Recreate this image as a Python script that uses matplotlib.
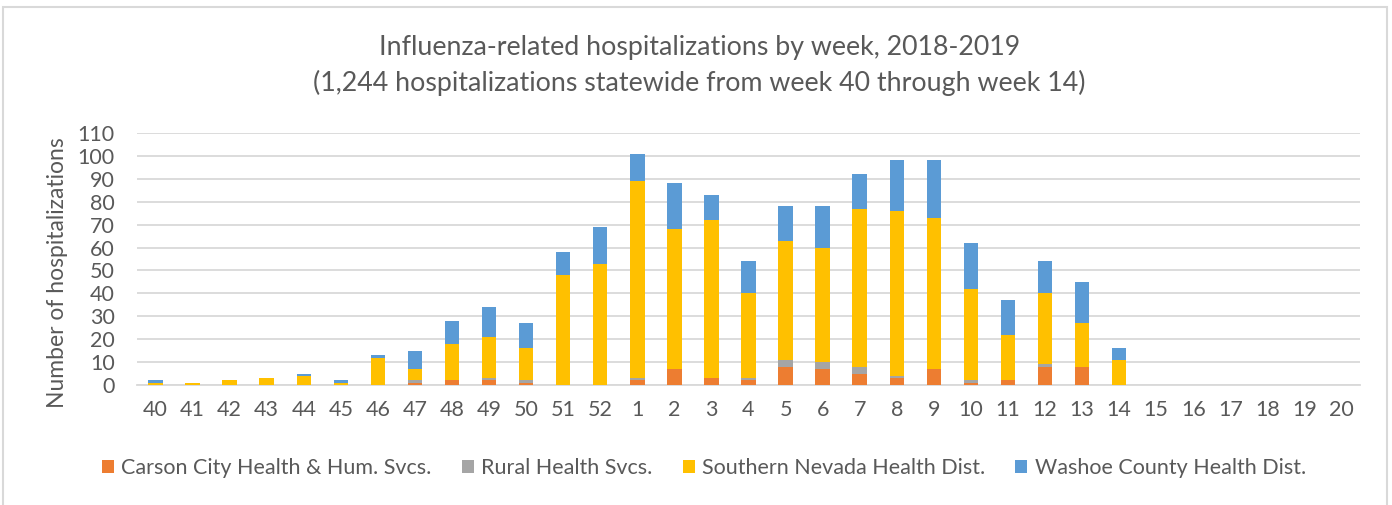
import matplotlib
matplotlib.use("Agg")
import matplotlib.pyplot as plt
from matplotlib.patches import Rectangle
import numpy as np

weeks = ['40', '41', '42', '43', '44', '45', '46', '47', '48', '49', '50', '51', '52',
         '1', '2', '3', '4', '5', '6', '7', '8', '9', '10', '11', '12', '13', '14',
         '15', '16', '17', '18', '19', '20']
carson = [0, 0, 0, 0, 0, 0, 0, 1, 2, 2, 1, 0, 0, 2, 7, 3, 2, 8, 7, 5, 3, 7, 1, 2, 8, 8, 0,
          0, 0, 0, 0, 0, 0]
rural = [0, 0, 0, 0, 0, 0, 0, 1, 0, 1, 1, 0, 0, 1, 0, 0, 1, 3, 3, 3, 1, 0, 1, 0, 1, 0, 0,
         0, 0, 0, 0, 0, 0]
southern = [1, 1, 2, 3, 4, 1, 12, 5, 16, 18, 14, 48, 53, 86, 61, 69, 37, 52, 50, 69, 72, 66,
            40, 20, 31, 19, 11, 0, 0, 0, 0, 0, 0]
washoe = [1, 0, 0, 0, 1, 1, 1, 8, 10, 13, 11, 10, 16, 12, 20, 11, 14, 15, 18, 15, 22, 25,
          20, 15, 14, 18, 5, 0, 0, 0, 0, 0, 0]

series = [
    ("Carson City Health & Hum. Svcs.", carson, "#ED7D31"),
    ("Rural Health Svcs.", rural, "#A5A5A5"),
    ("Southern Nevada Health Dist.", southern, "#FFC000"),
    ("Washoe County Health Dist.", washoe, "#5B9BD5"),
]

plt.rcParams['font.family'] = ['Lato', 'DejaVu Sans']
txt = "#595959"

W, H = 1392, 505
fig = plt.figure(figsize=(W / 100, H / 100), dpi=100)
fig.patch.set_facecolor("white")

# outer chart border
fig.patches.append(Rectangle((3 / W, -0.01), (1387 - 3) / W, (H - 7) / H + 0.01,
                             transform=fig.transFigure, fill=False,
                             edgecolor="#D9D9D9", linewidth=1.5))

left, right = 137 / W, 1360 / W
bottom, top = (H - 385) / H, (H - 133) / H
ax = fig.add_axes([left, bottom, right - left, top - bottom])

x = np.arange(len(weeks))
base = np.zeros(len(weeks))
handles = []
for name, vals, col in series:
    v = np.array(vals, dtype=float)
    b = ax.bar(x, v, width=0.39, bottom=base, color=col, label=name, zorder=3,
               linewidth=0)
    handles.append(b)
    base += v

ax.set_xlim(-0.5, len(weeks) - 0.5)
ax.set_ylim(0, 110)
ax.set_yticks(np.arange(0, 111, 10))
ax.set_xticks(x)
ax.set_xticklabels(weeks)
ax.tick_params(axis='both', length=0, labelsize=15.5, colors=txt)
ax.tick_params(axis='y', pad=16)
ax.tick_params(axis='x', pad=11)
ax.grid(axis='y', color="#D9D9D9", linewidth=1.3, zorder=0)
ax.set_axisbelow(True)
for s in ['top', 'right', 'left']:
    ax.spines[s].set_visible(False)
ax.spines['bottom'].set_color("#D9D9D9")
ax.spines['bottom'].set_linewidth(1.3)

fig.text(57 / W, (H - 273) / H, "Number of hospitalizations", rotation=90,
         ha='center', va='center', fontsize=16.5, color=txt)

fig.text(700 / W, (H - 47) / H, "Influenza-related hospitalizations by week, 2018-2019",
         ha='center', va='center', fontsize=19.3, color=txt)
fig.text(699 / W, (H - 83) / H,
         "(1,244 hospitalizations statewide from week 40 through week 14)",
         ha='center', va='center', fontsize=19.3, color=txt)

leg = fig.legend(handles=handles, labels=[s[0] for s in series], loc='center',
                 bbox_to_anchor=(704 / W, (H - 468) / H), ncol=4, frameon=False,
                 fontsize=15.5, handlelength=0.55, handleheight=0.55, handletextpad=0.35,
                 columnspacing=1.4, borderpad=0)
for t in leg.get_texts():
    t.set_color(txt)

fig.savefig("out.png", dpi=100, facecolor="white")
